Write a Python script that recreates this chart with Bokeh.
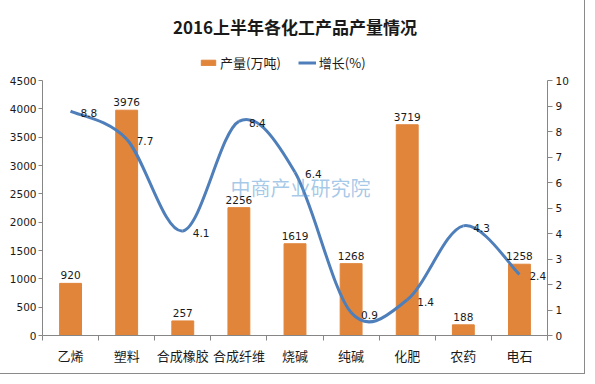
import numpy as np
from bokeh.plotting import figure
from bokeh.models import (Range1d, LinearAxis, FixedTicker, Legend, LegendItem,
                          ColumnDataSource, Label)
from bokeh.core.properties import value
from bokeh.embed import file_html
from bokeh.resources import INLINE

title = "2016上半年各化工产品产量情况"
categories = ["乙烯", "塑料", "合成橡胶", "合成纤维", "烧碱", "纯碱", "化肥", "农药", "电石"]
output = [920, 3976, 257, 2256, 1619, 1268, 3719, 188, 1258]
growth = [8.8, 7.7, 4.1, 8.4, 6.4, 0.9, 1.4, 4.3, 2.4]
left_max, right_max = 4500, 10
left_ticks = [0, 500, 1000, 1500, 2000, 2500, 3000, 3500, 4000, 4500]
right_ticks = [0, 1, 2, 3, 4, 5, 6, 7, 8, 9, 10]

BAR = "#E0853A"
LINE = "#4F7FBA"
AXIS = "#868686"
TXT = "#1a1a1a"
NUMFONT = "DejaVu Sans"
CJK = "Noto Sans CJK SC"

# frame geometry (pixels): axes span 255px, frame extends above for the legend
AXIS_PX, FRAME_PX = 255, 295
scale = FRAME_PX / AXIS_PX

n = len(categories)
xc = np.arange(n) + 0.5  # category centres on a numeric axis

p = figure(width=579, height=368, output_backend="svg", toolbar_location=None,
           x_range=Range1d(0, n), y_range=Range1d(0, left_max * scale), title=title,
           min_border_left=42, min_border_right=32, min_border_bottom=33,
           min_border_top=40)
p.styles = {"outline": "1px solid #8a8a8a", "outline-offset": "5px"}
p.outline_line_color = None
p.xgrid.visible = False
p.ygrid.visible = False
p.background_fill_color = "white"
p.border_fill_color = "white"

p.title.align = "center"
p.title.text_font = CJK
p.title.text_font_size = "17px"
p.title.text_font_style = "bold"
p.title.text_color = TXT
p.title.standoff = 4

src = ColumnDataSource(dict(x=xc, out=output, g=growth,
                            out_lbl=[str(v) for v in output],
                            g_lbl=[str(v) for v in growth]))

bars = p.vbar(x="x", top="out", width=0.39, source=src, color=BAR)

p.extra_y_ranges = {"pct": Range1d(0, right_max * scale)}

# smooth (Catmull-Rom style) curve through growth values
g = np.array(growth, dtype=float)
x0 = xc[:-1]; x1 = xc[1:]
y0 = g[:-1]; y1 = g[1:]
xm = np.concatenate([[xc[0]], xc[:-2]]); ym = np.concatenate([[g[0]], g[:-2]])
xp = np.concatenate([xc[2:], [xc[-1]]]); yp = np.concatenate([g[2:], [g[-1]]])
cx0 = x0 + (x1 - xm) / 6; cy0 = y0 + (y1 - ym) / 6
cx1 = x1 - (xp - x0) / 6; cy1 = y1 - (yp - y0) / 6
p.bezier(x0=x0, y0=y0, x1=x1, y1=y1, cx0=cx0, cy0=cy0, cx1=cx1, cy1=cy1,
         line_color=LINE, line_width=3, y_range_name="pct")
# single-point line used only for the legend swatch
legend_line = p.line(x=[xc[0]], y=[g[0]], line_color=LINE, line_width=3,
                     y_range_name="pct")

# data labels
p.text(x="x", y="out", text="out_lbl", source=src, text_align="center",
       text_baseline="bottom", y_offset=-4, text_font=value(NUMFONT),
       text_font_size="10.5px", text_color=TXT)
p.text(x="x", y="g", text="g_lbl", source=src, text_align="left",
       text_baseline="middle", x_offset=10, y_offset=2, y_range_name="pct",
       text_font=value(NUMFONT), text_font_size="10.5px", text_color=TXT)

# watermark
p.add_layout(Label(x=3.35, y=2620, text="中商产业研究院", text_font=CJK,
                   text_font_size="20px", text_color="#5B9BD5", text_alpha=0.55,
                   text_baseline="middle"))

# axes
xa = p.xaxis[0]
xa.ticker = FixedTicker(ticks=list(xc), minor_ticks=list(range(n + 1)))
xa.major_label_overrides = {float(x): c for x, c in zip(xc, categories)}
xa.major_tick_out = 0
xa.major_tick_in = 0
xa.minor_tick_out = 5
xa.minor_tick_in = 0
xa.minor_tick_line_color = AXIS
xa.axis_line_color = AXIS
xa.major_label_text_font = CJK
xa.major_label_text_font_size = "13px"
xa.major_label_text_color = TXT
xa.major_label_standoff = 5

ya = p.yaxis[0]
ya.ticker = FixedTicker(ticks=left_ticks)
ya.bounds = (0, left_max)
ya.major_tick_out = 4
ya.major_tick_in = 0
ya.minor_tick_out = 0
ya.minor_tick_in = 0
ya.axis_line_color = AXIS
ya.major_tick_line_color = AXIS
ya.major_label_text_font = NUMFONT
ya.major_label_text_font_size = "10.5px"
ya.major_label_text_color = TXT
ya.major_label_standoff = 2

ra = LinearAxis(y_range_name="pct", ticker=FixedTicker(ticks=right_ticks),
                bounds=(0, right_max))
ra.major_tick_out = 5
ra.major_tick_in = 0
ra.minor_tick_out = 0
ra.minor_tick_in = 0
ra.axis_line_color = AXIS
ra.major_tick_line_color = AXIS
ra.major_label_text_font = NUMFONT
ra.major_label_text_font_size = "10.5px"
ra.major_label_text_color = TXT
ra.major_label_standoff = 3
p.add_layout(ra, "right")

legend = Legend(items=[LegendItem(label="产量(万吨)", renderers=[bars]),
                       LegendItem(label="增长(%)", renderers=[legend_line])],
                orientation="horizontal", location=(157, 263),
                border_line_color=None, background_fill_alpha=0,
                label_text_font=CJK, label_text_font_size="13px",
                label_text_color=TXT, glyph_width=18, glyph_height=7,
                label_height=16, spacing=17, label_standoff=3, padding=0, margin=0)
p.add_layout(legend, "center")

open("out.html", "w").write(file_html(p, INLINE))
